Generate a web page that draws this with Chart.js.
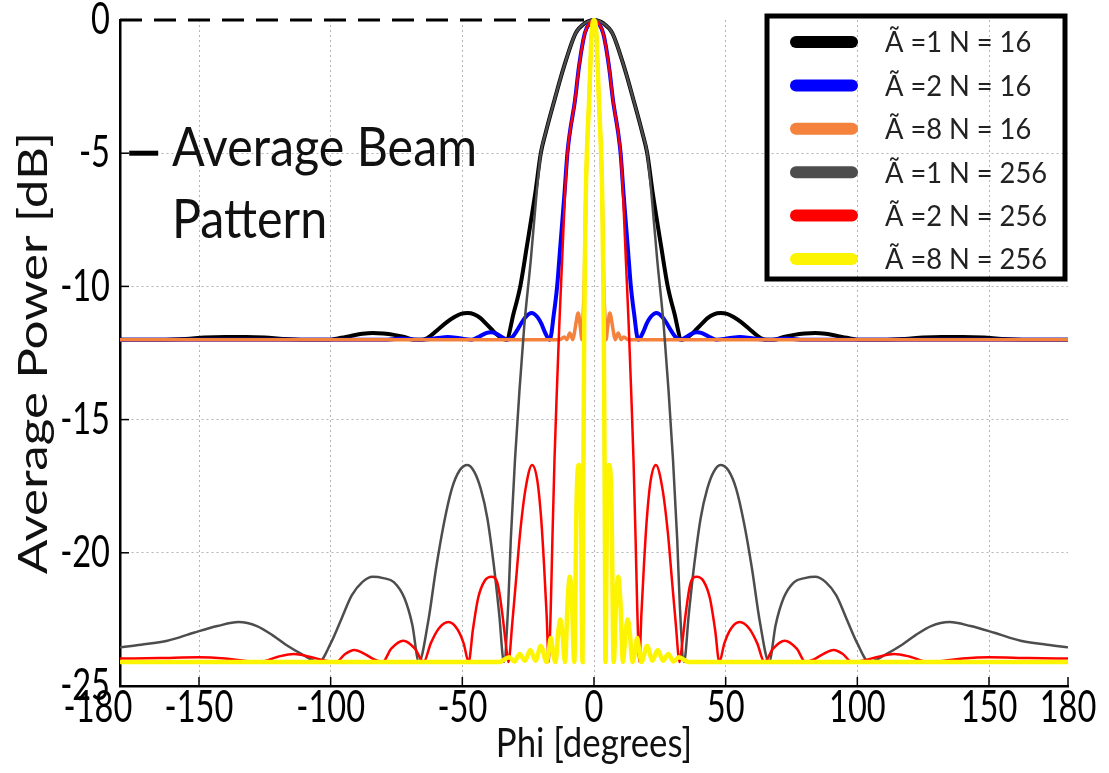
<!DOCTYPE html>
<html>
<head>
<meta charset="utf-8">
<script src="https://cdn.jsdelivr.net/npm/chart.js@4.4.1/dist/chart.umd.min.js"></script>
<style>
  body { margin: 0; background: #fff; }
  canvas { display: block; }
</style>
</head>
<body>
<canvas id="myChart" width="1109" height="773"></canvas>
<script>
// tick labels
const xTicks = [-180, -150, -100, -50, 0, 50, 100, 150, 180]
const yTicks = [0, -5, -10, -15, -20, -25]
const xTitle = 'Phi [degrees]'
const yTitle = 'Average Power [dB]'
const noteLines = ['Average Beam', 'Pattern']

const labels = ["Ã =1 N = 16", "Ã =2 N = 16", "Ã =8 N = 16", "Ã =1 N = 256", "Ã =2 N = 256", "Ã =8 N = 256"]

// 0 dB reference (dashed)
const refPhi = [-180, 0]
const refDb = [0, 0]

// Ã=1, N=16
const a1n16Phi = [-180,-165,-155,-148,-140,-132,-125,-118,-110,-101,-96,-92,-88,-84,-80,-76,-72,-68.5,-65,-62,-59,-56,-53,-50.5,-48,-45.5,-43,-41,-39,-37,-35,-33.3,-30.5,-28,-25.5,-22.3,-20.2,-18.4,-15,-11.4,-7,-3.5,0,
  3.5,7,11.4,15,18.4,20.2,22.3,25.5,28,30.5,33.3,35,37,39,41,43,45.5,48,50.5,53,56,59,62,65,68.5,72,76,80,84,88,92,96,101,110,118,125,132,140,148,155,165,180]
const a1n16Db = [-12,-12,-11.97,-11.92,-11.9,-11.9,-11.92,-11.97,-12,-12,-11.93,-11.85,-11.78,-11.75,-11.77,-11.82,-11.9,-12,-12,-11.85,-11.6,-11.35,-11.15,-11.03,-11,-11.05,-11.2,-11.4,-11.6,-11.8,-11.95,-12,-11,-10,-8.5,-6.5,-5,-4.25,-3,-1.75,-0.5,-0.12,0,
  -0.12,-0.5,-1.75,-3,-4.25,-5,-6.5,-8.5,-10,-11,-12,-11.95,-11.8,-11.6,-11.4,-11.2,-11.05,-11,-11.03,-11.15,-11.35,-11.6,-11.85,-12,-12,-11.9,-11.82,-11.77,-11.75,-11.78,-11.85,-11.93,-12,-12,-11.97,-11.92,-11.9,-11.9,-11.92,-11.97,-12,-12]

// Ã=2, N=16
const a2n16Phi = [-180,-80,-73,-66,-60,-55.5,-51,-46.5,-43.5,-41,-39,-37,-35,-33,-31,-29.5,-28,-26,-23.7,-21.5,-20,-18.5,-16.8,-15.2,-14,-12.8,-11.2,-10.1,-9.2,-7.2,-5.7,-3.5,-1.7,0,
  1.7,3.5,5.7,7.2,9.2,10.1,11.2,12.8,14,15.2,16.8,18.5,20,21.5,23.7,26,28,29.5,31,33,35,37,39,41,43.5,46.5,51,55.5,60,66,73,80,180]
const a2n16Db = [-12,-12,-11.96,-12,-11.95,-11.9,-11.95,-12,-11.88,-11.75,-11.72,-11.78,-11.9,-12,-11.9,-11.7,-11.45,-11.15,-11,-11.15,-11.4,-11.75,-12,-11,-10,-8.5,-6.5,-5,-4.25,-3,-1.75,-0.5,-0.12,0,
  -0.12,-0.5,-1.75,-3,-4.25,-5,-6.5,-8.5,-10,-11,-12,-11.75,-11.4,-11.15,-11,-11.15,-11.45,-11.7,-11.9,-12,-11.9,-11.78,-11.72,-11.75,-11.88,-12,-11.95,-11.9,-11.95,-12,-11.96,-12,-12]

// Ã=8, N=16
const a8n16Phi = [-180,-13,-11.3,-10.3,-9.2,-8,-7.2,-6,-5.1,-4.6,-4.1,-3.7,-3.45,-3.1,-2.7,-1.85,-1.4,-0.9,0,
  0.9,1.4,1.85,2.7,3.1,3.45,3.7,4.1,4.6,5.1,6,7.2,8,9.2,10.3,11.3,13,180]
const a8n16Db = [-12,-12,-11.9,-12,-11.75,-12,-11.6,-11,-11.6,-12,-11,-10,-8.5,-6.5,-5,-3,-1.75,-0.5,0,
  -0.5,-1.75,-3,-5,-6.5,-8.5,-10,-11,-12,-11.6,-11,-11.6,-12,-11.75,-12,-11.9,-12,-12]

// Ã=1, N=256
const a1n256Phi = [-180,-172,-162,-152,-143,-135,-128,-122,-117,-111,-104.5,-100,-96,-92,-88,-84,-80,-76,-72,-69,-66.5,-63,-60,-57,-54,-51,-48,-45.5,-43,-40.5,-38,-36,-34.2,-32.6,-31.6,-30,-28.3,-26.5,-24,-21.8,-20.2,-18.4,-15,-11.4,-7,-3.5,0,
  3.5,7,11.4,15,18.4,20.2,21.8,24,26.5,28.3,30,31.6,32.6,34.2,36,38,40.5,43,45.5,48,51,54,57,60,63,66.5,69,72,76,80,84,88,92,96,100,104.5,111,117,122,128,135,143,152,162,172,180]
const a1n256Db = [-23.55,-23.45,-23.3,-23,-22.75,-22.6,-22.75,-23.1,-23.45,-23.8,-24.1,-23.4,-22.5,-21.6,-21.1,-20.9,-20.95,-21.1,-21.7,-22.7,-24.1,-22.6,-20.6,-18.9,-17.6,-16.9,-16.7,-16.95,-17.6,-18.7,-20.5,-22.3,-24.1,-22,-19.5,-16.5,-13.9,-11.5,-9,-6.5,-5,-4.25,-3,-1.75,-0.5,-0.12,0,
  -0.12,-0.5,-1.75,-3,-4.25,-5,-6.5,-9,-11.5,-13.9,-16.5,-19.5,-22,-24.1,-22.3,-20.5,-18.7,-17.6,-16.95,-16.7,-16.9,-17.6,-18.9,-20.6,-22.6,-24.1,-22.7,-21.7,-21.1,-20.95,-20.9,-21.1,-21.6,-22.5,-23.4,-24.1,-23.8,-23.45,-23.1,-22.75,-22.6,-22.75,-23,-23.3,-23.45,-23.55]

// Ã=2, N=256
const a2n256Phi = [-180,-165,-150,-140,-133,-127,-120,-114,-108,-102,-98,-94.5,-91,-87,-83.5,-80.3,-77,-72.4,-68,-64.7,-62,-59,-55.3,-52,-49.5,-47.6,-46,-44,-41.5,-38.9,-36.5,-34.8,-33.5,-32.5,-31,-29.5,-28,-26,-23.5,-21.5,-20,-19,-18,-17.2,-16.4,-15.8,-15,-14.1,-13.2,-12.1,-11,-10.1,-9.2,-7.2,-5.7,-3.5,-1.7,0,
  1.7,3.5,5.7,7.2,9.2,10.1,11,12.1,13.2,14.1,15,15.8,16.4,17.2,18,19,20,21.5,23.5,26,28,29.5,31,32.5,33.5,34.8,36.5,38.9,41.5,44,46,47.6,49.5,52,55.3,59,62,64.7,68,72.4,77,80.3,83.5,87,91,94.5,98,102,108,114,120,127,133,140,150,165,180]
const a2n256Db = [-23.97,-23.95,-23.92,-23.97,-24.05,-24.1,-23.9,-23.8,-23.9,-24.05,-24.1,-23.8,-23.65,-23.8,-24,-24.1,-23.6,-23.3,-23.6,-24.1,-23.4,-22.85,-22.6,-22.85,-23.4,-24.1,-22.9,-21.7,-21.05,-20.9,-21.2,-22.3,-23.4,-24.1,-22.6,-20.9,-19.2,-17.6,-16.7,-17.3,-18.8,-20.4,-22.3,-24.1,-22,-19.5,-16.5,-13.9,-11.5,-9,-6.5,-5,-4.25,-3,-1.75,-0.5,-0.12,0,
  -0.12,-0.5,-1.75,-3,-4.25,-5,-6.5,-9,-11.5,-13.9,-16.5,-19.5,-22,-24.1,-22.3,-20.4,-18.8,-17.3,-16.7,-17.6,-19.2,-20.9,-22.6,-24.1,-23.4,-22.3,-21.2,-20.9,-21.05,-21.7,-22.9,-24.1,-23.4,-22.85,-22.6,-22.85,-23.4,-24.1,-23.6,-23.3,-23.6,-24.1,-24,-23.8,-23.65,-23.8,-24.1,-24.05,-23.9,-23.8,-23.9,-24.1,-24.05,-23.97,-23.92,-23.95,-23.97]

// Ã=8, N=256
const a8n256Phi = [-180,-36,-32.2,-30.2,-28.2,-26.2,-24.2,-22.2,-20.2,-18,-17.2,-16.4,-15.6,-14.6,-13.6,-12.8,-12,-11,-10,-9.2,-8.4,-7.5,-6.6,-5.8,-5,-4.35,-4.15,-4,-3.85,-3.7,-3.45,-3.1,-2.7,-1.85,-1.4,-0.9,0,
  0.9,1.4,1.85,2.7,3.1,3.45,3.7,3.85,4,4.15,4.35,5,5.8,6.6,7.5,8.4,9.2,10,11,12,12.8,13.6,14.6,15.6,16.4,17.2,18,20.2,22.2,24.2,26.2,28.2,30.2,32.2,36,180]
const a8n256Db = [-24.1,-24.1,-23.92,-24.08,-23.8,-24.05,-23.65,-24.05,-23.5,-24.1,-23.7,-23.2,-23.7,-24.1,-23,-22.5,-23,-24.1,-21.8,-20.9,-21.8,-24.1,-18,-16.7,-18,-24.1,-19.5,-16.5,-13.9,-11.5,-9,-6.5,-5,-3,-1.75,-0.5,0,
  -0.5,-1.75,-3,-5,-6.5,-9,-11.5,-13.9,-16.5,-19.5,-24.1,-18,-16.7,-18,-24.1,-21.8,-20.9,-21.8,-24.1,-23,-22.5,-23,-24.1,-23.7,-23.2,-23.7,-24.1,-23.5,-24.05,-23.65,-24.05,-23.8,-24.08,-23.92,-24.1,-24.1]

const FONT = "Lato, 'Open Sans', sans-serif"

function pts(phi, db){
    return phi.map((p, i) => ({x: p, y: db[i]}))
}

function series(label, phi, db, color, width, order){
    return {
        label: label,
        data: pts(phi, db),
        borderColor: color,
        borderWidth: width,
        showLine: true,
        pointRadius: 0,
        cubicInterpolationMode: 'monotone',
        clip: false,
        order: order
    }
}

var datasets = [
    series(labels[0], a1n16Phi, a1n16Db, '#000000', 4, 7),
    series(labels[1], a2n16Phi, a2n16Db, '#0000ff', 4, 6),
    series(labels[2], a8n16Phi, a8n16Db, '#f4823c', 3.5, 5),
    series(labels[3], a1n256Phi, a1n256Db, '#4d4d4d', 2.5, 4),
    series(labels[4], a2n256Phi, a2n256Db, '#ff0000', 2.5, 3),
    series(labels[5], a8n256Phi, a8n256Db, '#fcf400', 4.5, 2)
]
var ref = series('', refPhi, refDb, '#000000', 3, 1)
ref.borderDash = [22, 12]
ref.cubicInterpolationMode = 'default'
datasets.push(ref)

// text squeezed sideways like the original picture
function txt(ctx, s, x, y, size, sx, align, base, rot){
    ctx.save()
    ctx.translate(x, y)
    if (rot) ctx.rotate(rot)
    ctx.scale(sx, 1)
    ctx.font = size + 'px ' + FONT
    ctx.textAlign = align
    ctx.textBaseline = base
    ctx.fillText(s, 0, 0)
    ctx.restore()
}

// labels, legend, annotation and inner ticks
const overlay = {
    id: 'overlay',
    afterDraw(chart){
        const ctx = chart.ctx
        const xs = chart.scales.x, ys = chart.scales.y
        const area = chart.chartArea
        ctx.save()

        // inner tick marks
        ctx.strokeStyle = '#000'
        ctx.lineWidth = 1.5
        xTicks.forEach(v => {
            const px = xs.getPixelForValue(v)
            ctx.beginPath(); ctx.moveTo(px, area.bottom); ctx.lineTo(px, area.bottom - 9); ctx.stroke()
        })
        yTicks.forEach(v => {
            const py = ys.getPixelForValue(v)
            ctx.beginPath(); ctx.moveTo(area.left, py); ctx.lineTo(area.left + 9, py); ctx.stroke()
        })

        // tick labels and axis titles
        ctx.fillStyle = '#000'
        xTicks.forEach(v => {
            let px = xs.getPixelForValue(v)
            if (v === -180) px -= 22
            txt(ctx, String(v), px, area.bottom + 22, 44, 0.74, 'center', 'middle')
        })
        yTicks.forEach(v => txt(ctx, String(v), area.left - 10, ys.getPixelForValue(v), 44, 0.74, 'right', 'middle'))
        ctx.fillStyle = '#111'
        txt(ctx, xTitle, (area.left + area.right) / 2, 744, 40, 0.87, 'center', 'middle')
        txt(ctx, yTitle, 34, (area.top + area.bottom) / 2, 40, 1.28, 'center', 'middle', -Math.PI / 2)

        // annotation
        const ay = ys.getPixelForValue(-5)
        ctx.strokeStyle = '#000'
        ctx.lineWidth = 5
        ctx.beginPath()
        ctx.moveTo(xs.getPixelForValue(-176.5), ay)
        ctx.lineTo(xs.getPixelForValue(-165.5), ay)
        ctx.stroke()
        txt(ctx, noteLines[0], 172, 166, 55, 0.88, 'left', 'alphabetic')
        txt(ctx, noteLines[1], 172, 238, 55, 0.88, 'left', 'alphabetic')

        // legend box
        ctx.lineWidth = 5
        ctx.strokeStyle = '#000'
        ctx.strokeRect(767, 16, 298, 263)
        ctx.lineCap = 'round'
        chart.data.datasets.forEach((ds, i) => {
            if (!ds.label) return
            const y = 42 + i * 43.4
            ctx.strokeStyle = ds.borderColor
            ctx.lineWidth = 12
            ctx.beginPath(); ctx.moveTo(796, y); ctx.lineTo(852, y); ctx.stroke()
            ctx.fillStyle = '#222'
            txt(ctx, ds.label, 885, y + 1, 29, 0.94, 'left', 'middle')
        })
        ctx.restore()
    }
}

var ctx = document.getElementById('myChart').getContext('2d')

var myChart = new Chart(ctx, {
    type: 'scatter',
    data: { datasets: datasets },
    options: {
        responsive: false,
        animation: false,
        layout: { padding: { top: 20, right: 41, left: 0, bottom: 0 } },
        plugins: {
            legend: { display: false },
            tooltip: { enabled: false }
        },
        scales: {
            x: {
                type: 'linear',
                min: -180,
                max: 180,
                afterBuildTicks: s => { s.ticks = xTicks.map(v => ({ value: v })) },
                afterFit: s => { s.height = 87 },
                grid: {
                    drawTicks: false,
                    color: c => (c.tick && (c.tick.value === -180 || c.tick.value === 180)) ? 'rgba(0,0,0,0)' : '#b4b4b4',
                    lineWidth: 1
                },
                border: { display: true, color: '#000', width: 2.5, dash: [2, 3] },
                ticks: { display: false }
            },
            y: {
                type: 'linear',
                min: -25,
                max: 0,
                afterBuildTicks: s => { s.ticks = yTicks.map(v => ({ value: v })) },
                afterFit: s => { s.width = 120 },
                grid: {
                    drawTicks: false,
                    color: c => (c.tick && (c.tick.value === 0 || c.tick.value === -25)) ? 'rgba(0,0,0,0)' : '#b4b4b4',
                    lineWidth: 1
                },
                border: { display: true, color: '#000', width: 2.5, dash: [2, 3] },
                ticks: { display: false }
            }
        }
    },
    plugins: [overlay]
})
</script>
</body>
</html>
